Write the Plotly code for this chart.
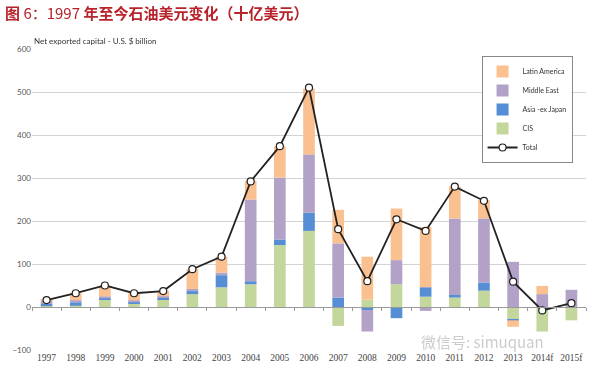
import plotly.graph_objects as go

years = ['1997', '1998', '1999', '2000', '2001', '2002', '2003', '2004', '2005', '2006',
         '2007', '2008', '2009', '2010', '2011', '2012', '2013', '2014f', '2015f']
cis = [2, 3, 18, 8, 18, 30, 46, 53, 144, 177, -44, 17, 53, 24, 22, 38, -28, -57, -31]
asia = [5, 8, 2, 3, 3, 7, 28, 7, 13, 42, 22, -7, -26, 22, 6, 19, -3, 0, 0]
middle_east = [9, 5, 5, 5, 4, 5, 6, 190, 144, 136, 126, -50, 56, -9, 178, 149, 105, 30, 40]
latin = [2, 16, 25, 16, 12, 46, 37, 44, 73, 153, 78, 100, 120, 140, 74, 43, -15, 19, 0]
total = [16, 32, 50, 32, 37, 88, 117, 292, 374, 510, 181, 60, 204, 177, 280, 247, 59, -8, 9]

title_text = '<b>图</b> 6：1997 <b>年至今石油美元变化（十亿美元）</b>'
subtitle = 'Net exported capital - U.S. $ billion'
watermark = '微信号: simuquan'

fig = go.Figure()
series = [
    ('CIS', cis, '#C3D69B', 4),
    ('Asia -ex Japan', asia, '#558ED5', 3),
    ('Middle East', middle_east, '#B3A2C7', 2),
    ('Latin America', latin, '#FAC090', 1),
]
for name, vals, col, rank in series:
    fig.add_trace(go.Bar(x=years, y=vals, name=name, marker=dict(color=col, line=dict(width=0)),
                         legendrank=rank))

fig.add_trace(go.Scatter(x=years, y=total, name='Total', mode='lines+markers',
                         line=dict(color='#222222', width=1.8),
                         marker=dict(symbol='circle', size=7, color='white',
                                     line=dict(color='#222222', width=1.2)),
                         legendrank=5))
# invisible helper trace for the zero-line category axis
fig.add_trace(go.Scatter(x=years, y=total, xaxis='x2', mode='markers', opacity=0,
                         showlegend=False, hoverinfo='skip'))

fig.update_layout(
    width=600, height=380,
    barmode='relative', bargap=0.6,
    paper_bgcolor='white', plot_bgcolor='white',
    margin=dict(l=29, r=14, t=49, b=30),
    title=dict(text=title_text, x=5/600, xanchor='left', y=1-14/380, yanchor='middle',
               font=dict(size=15, color='#B8232B', family='Noto Sans CJK SC')),
    xaxis=dict(type='category', categoryorder='array', categoryarray=years,
               range=[-0.5, 18.5], showgrid=False, showline=False, ticks='',
               tickfont=dict(family='Liberation Serif', size=9.5, color='#444')),
    xaxis2=dict(type='category', categoryorder='array', categoryarray=years,
                overlaying='x', anchor='free', position=100/700, range=[-0.5, 18.5],
                showgrid=False, showline=True, linecolor='#9a9a9a', linewidth=1,
                ticks='outside', ticklen=3, tickcolor='#9a9a9a', tickson='boundaries',
                showticklabels=False),
    yaxis=dict(range=[-100, 600], dtick=100, showgrid=True, gridcolor='#d3d3d3',
               gridwidth=1, zeroline=False, showline=False, ticks='',
               tickfont=dict(family='Lato', size=8, color='#555')),
    legend=dict(x=(481-29)/557, y=(350-56)/301, xanchor='left', yanchor='top',
                bgcolor='white', bordercolor='#888', borderwidth=1,
                font=dict(family='Lato', size=7, color='#333'),
                itemwidth=30, tracegroupgap=0),
    showlegend=True,
)

fig.add_annotation(text=subtitle, xref='paper', yref='paper', x=0.0, y=(350-41)/301,
                   xanchor='left', yanchor='middle', showarrow=False,
                   font=dict(family='Lato', size=8, color='#333'))
fig.add_annotation(text=watermark, xref='paper', yref='paper', x=(482-29)/557,
                   y=(350-341)/301, xanchor='center', yanchor='middle', showarrow=False,
                   font=dict(family='Noto Sans CJK SC', size=15, color='rgba(170,170,170,0.6)'))

fig.write_html('out.html', config={'displayModeBar': False},
               post_script="document.body.style.margin='0';")
